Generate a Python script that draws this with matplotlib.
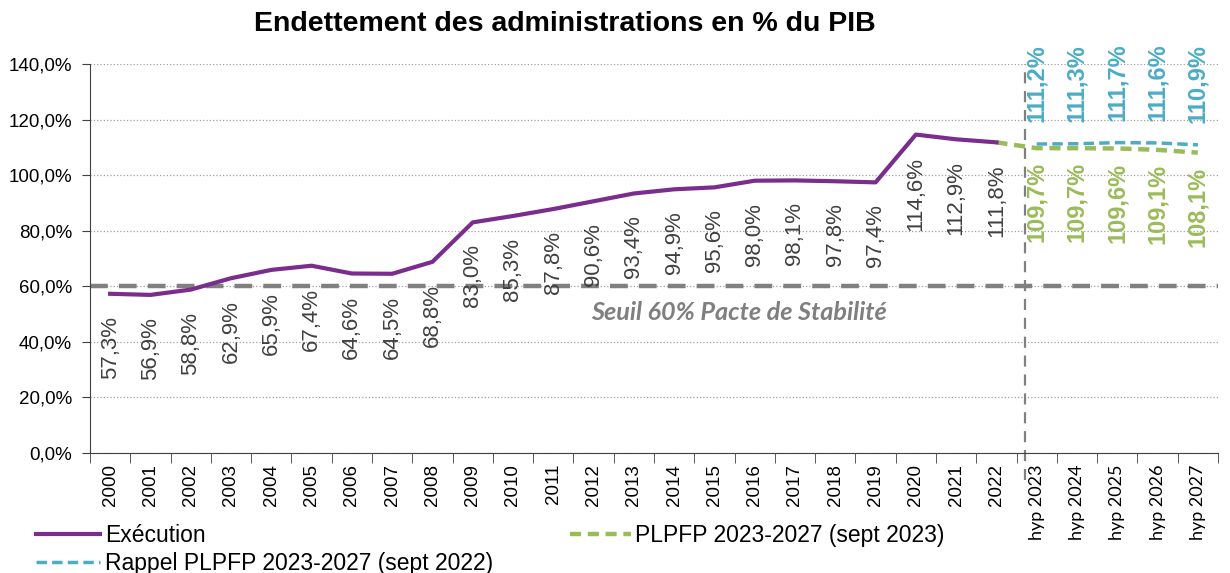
import numpy as np
import matplotlib.pyplot as plt
from matplotlib.ticker import FuncFormatter

years = [str(y) for y in range(2000, 2023)]
hyp_years = ["hyp %d" % y for y in range(2023, 2028)]
execution = [57.3, 56.9, 58.8, 62.9, 65.9, 67.4, 64.6, 64.5, 68.8, 83.0, 85.3,
             87.8, 90.6, 93.4, 94.9, 95.6, 98.0, 98.1, 97.8, 97.4, 114.6, 112.9, 111.8]
plpfp_2023 = [109.7, 109.7, 109.6, 109.1, 108.1]
rappel_2022 = [111.2, 111.3, 111.7, 111.6, 110.9]
seuil = 60

purple = "#7B2D8E"
green = "#9BBB59"
blue = "#4BACC6"
grey = "#808080"

plt.rcParams['font.family'] = ['Liberation Sans', 'DejaVu Sans']

fig = plt.figure(figsize=(12.3, 5.73), dpi=100)
ax = fig.add_axes([90 / 1230, 1 - 453 / 573, 1128 / 1230, 389 / 573])

labels = years + hyp_years
n = len(labels)
x_exec = np.arange(len(execution))
x_hyp = np.arange(len(years), n)

ax.set_xlim(-0.5, n - 0.5)
ax.set_ylim(0, 140)
ax.set_yticks(np.arange(0, 141, 20))
ax.yaxis.set_major_formatter(FuncFormatter(lambda v, p: ("%.1f%%" % v).replace(".", ",")))
ax.grid(axis="y", color="#A0A0A0", linestyle=":", linewidth=0.9)
ax.set_axisbelow(True)

# seuil 60%
ax.axhline(seuil, color=grey, linestyle=(0, (4, 2.5)), linewidth=3.2, zorder=2)
ax.text(15.6, 50.7, "Seuil 60% Pacte de Stabilité", color="#7F7F7F", fontsize=18.2,
        fontweight="bold", fontstyle="italic", family=["Lato", "DejaVu Sans"],
        ha="center", va="center")

# separation execution / hypotheses
ax.axvline(22.7, ymin=-0.07, ymax=1.0, color=grey, linestyle=(0, (5, 3.5)),
           linewidth=1.6, clip_on=False, zorder=2)

ax.plot(x_exec, execution, color=purple, linewidth=3, zorder=4, label="Exécution")
ax.plot(np.r_[x_exec[-1], x_hyp], [execution[-1]] + plpfp_2023, color=green,
        linewidth=3.2, linestyle=(0, (2.5, 1.5)), zorder=3,
        label="PLPFP 2023-2027 (sept 2023)")
ax.plot(x_hyp, rappel_2022, color=blue, linewidth=2.5, linestyle=(0, (3, 1.5)),
        zorder=3, label="Rappel PLPFP 2023-2027 (sept 2022)")

def fmt(v):
    return ("%.1f%%" % v).replace(".", ",")

for xi, v in zip(x_exec, execution):
    ax.annotate(fmt(v), (xi, v), xytext=(0, -22), textcoords="offset pixels",
                rotation=90, ha="center", va="top", fontsize=16, color="#404040")
for xi, v in zip(x_hyp, plpfp_2023):
    ax.annotate(fmt(v), (xi, v), xytext=(0, -14), textcoords="offset pixels",
                rotation=90, ha="center", va="top", fontsize=17, color=green,
                fontweight="bold")
for xi, v in zip(x_hyp, rappel_2022):
    ax.annotate(fmt(v), (xi, v), xytext=(0, 22), textcoords="offset pixels",
                rotation=90, ha="center", va="bottom", fontsize=17, color=blue,
                fontweight="bold")

# axes styling
for s in ["top", "right"]:
    ax.spines[s].set_visible(False)
ax.spines["left"].set_color("#404040")
ax.spines["bottom"].set_color("#404040")
ax.tick_params(axis="y", labelsize=13.5, length=6, color="#404040", pad=7)

ax.set_xticks(np.arange(n))
ax.set_xticklabels(labels, rotation=90, fontsize=13.5)
for lab in ax.get_xticklabels()[len(years):]:
    lab.set_fontfamily(["Lato", "DejaVu Sans"])
    lab.set_fontsize(13)
ax.set_xticks(np.arange(-0.5, n, 1), minor=True)
ax.tick_params(axis="x", which="major", length=0, pad=8)
ax.tick_params(axis="x", which="minor", length=7, color="#404040")

fig.text(565 / 1230, 1 - 24 / 573, "Endettement des administrations en % du PIB",
         fontsize=20.5, fontweight="bold", ha="center", va="center")

h, l = ax.get_legend_handles_labels()
fig.legend([h[0], h[2]], [l[0], l[2]], loc="upper left", bbox_to_anchor=(27 / 1230, 1 - 515 / 573),
           frameon=False, fontsize=16.5, handlelength=2.8, handletextpad=0.2,
           labelspacing=0.2, borderaxespad=0)
fig.legend([h[1]], [l[1]], loc="upper left", bbox_to_anchor=(561 / 1230, 1 - 515 / 573),
           frameon=False, fontsize=16.5, handlelength=2.65, handletextpad=0.2,
           borderaxespad=0)

fig.savefig("out.png", dpi=100)
